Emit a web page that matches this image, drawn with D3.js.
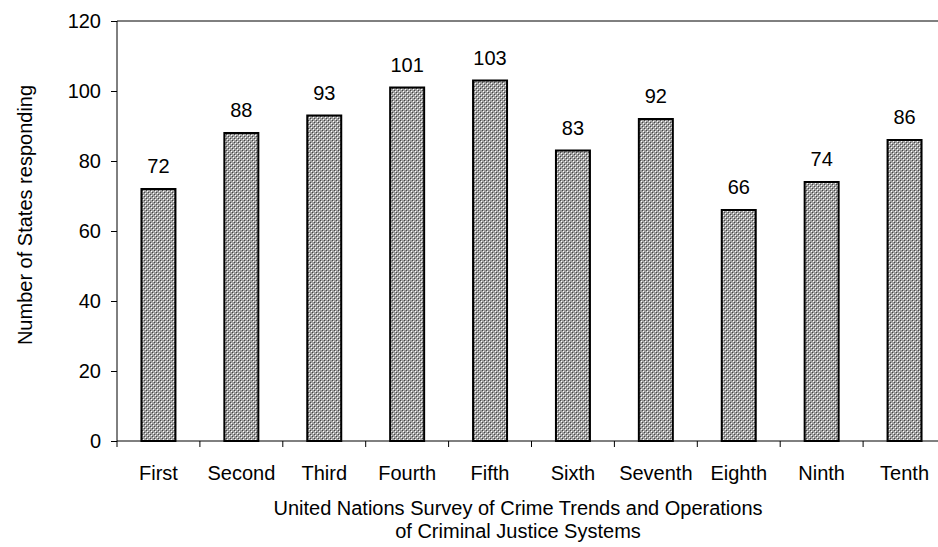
<!DOCTYPE html>
<html>
<head>
<meta charset="utf-8">
<script src="https://cdn.jsdelivr.net/npm/d3@7"></script>
<style>
  body { margin: 0; background: #fff; }
  text { font-family: "Liberation Sans", Arial, sans-serif; fill: #000; }
</style>
</head>
<body>
<div id="chart"></div>
<script>
// survey rounds and number of responding states
const rounds = ["First", "Second", "Third", "Fourth", "Fifth", "Sixth", "Seventh", "Eighth", "Ninth", "Tenth"];
const responses = [72, 88, 93, 101, 103, 83, 92, 66, 74, 86];
const yTicks = [0, 20, 40, 60, 80, 100, 120];

const width = 938, height = 547;
const margin = { top: 21, left: 117, bottom: 106 };
const plotW = 829; // axis runs off the right edge like the original
const plotH = height - margin.top - margin.bottom;
const fontSize = "20px";

const svg = d3.select("#chart").append("svg")
  .attr("width", width)
  .attr("height", height);

// crosshatch fill
const defs = svg.append("defs");
const pat = defs.append("pattern")
  .attr("id", "hatch")
  .attr("patternUnits", "userSpaceOnUse")
  .attr("width", 4)
  .attr("height", 4);
pat.append("rect").attr("width", 4).attr("height", 4).attr("fill", "#a0a0a0");
pat.append("rect").attr("x", 0).attr("y", 0).attr("width", 1).attr("height", 1).attr("fill", "#fff");
pat.append("rect").attr("x", 2).attr("y", 2).attr("width", 1).attr("height", 1).attr("fill", "#fff");
pat.append("rect").attr("x", 1).attr("y", 1).attr("width", 1).attr("height", 1).attr("fill", "#444");
pat.append("rect").attr("x", 3).attr("y", 3).attr("width", 1).attr("height", 1).attr("fill", "#444");

const g = svg.append("g").attr("transform", `translate(${margin.left},${margin.top})`);

const x = d3.scaleBand().domain(rounds).range([0, plotW]).paddingInner(0.59).paddingOuter(0.295);
const xTickScale = d3.scaleBand().domain(rounds).range([0, plotW]);
const y = d3.scaleLinear().domain([0, 120]).range([plotH, 0]);

// top border of plot area
g.append("line")
  .attr("x1", 0).attr("x2", plotW)
  .attr("y1", y(120)).attr("y2", y(120))
  .attr("stroke", "#000").attr("stroke-width", 1);

// y axis
const yAxis = g.append("g")
  .call(d3.axisLeft(y).tickValues(yTicks).tickSize(6).tickPadding(10));
yAxis.selectAll("path, line").attr("stroke", "#000");
yAxis.selectAll("text").style("font-size", fontSize).attr("font-family", null);
yAxis.select(".domain").attr("d", `M0,${y(0)}V${y(120)}`);

// bars
g.selectAll(".bar")
  .data(rounds)
  .enter()
  .append("rect")
  .attr("class", "bar")
  .attr("x", d => x(d))
  .attr("y", (d, i) => y(responses[i]))
  .attr("width", x.bandwidth())
  .attr("height", (d, i) => plotH - y(responses[i]))
  .attr("fill", "url(#hatch)")
  .attr("stroke", "#000")
  .attr("stroke-width", 2);

// x axis with ticks between categories
g.append("line")
  .attr("x1", 0).attr("x2", plotW)
  .attr("y1", plotH).attr("y2", plotH)
  .attr("stroke", "#000");
g.selectAll(".xtick")
  .data(rounds)
  .enter()
  .append("line")
  .attr("x1", d => xTickScale(d)).attr("x2", d => xTickScale(d))
  .attr("y1", plotH).attr("y2", plotH + 6)
  .attr("stroke", "#000");
g.selectAll(".xlabel")
  .data(rounds)
  .enter()
  .append("text")
  .attr("x", d => x(d) + x.bandwidth() / 2)
  .attr("y", plotH + 39)
  .attr("text-anchor", "middle")
  .style("font-size", fontSize)
  .text(d => d);

// value labels
g.selectAll(".val")
  .data(rounds)
  .enter()
  .append("text")
  .attr("x", d => x(d) + x.bandwidth() / 2)
  .attr("y", (d, i) => y(responses[i]) - 16)
  .attr("text-anchor", "middle")
  .style("font-size", fontSize)
  .text((d, i) => responses[i]);

// axis titles
g.append("text")
  .attr("x", 401)
  .attr("y", plotH + 74)
  .attr("text-anchor", "middle")
  .style("font-size", fontSize)
  .text("United Nations Survey of Crime Trends and Operations");
g.append("text")
  .attr("x", 401)
  .attr("y", plotH + 97)
  .attr("text-anchor", "middle")
  .style("font-size", fontSize)
  .text("of Criminal Justice Systems");

svg.append("text")
  .attr("transform", "translate(32,215) rotate(-90)")
  .attr("text-anchor", "middle")
  .style("font-size", fontSize)
  .text("Number of States responding");
</script>
</body>
</html>
